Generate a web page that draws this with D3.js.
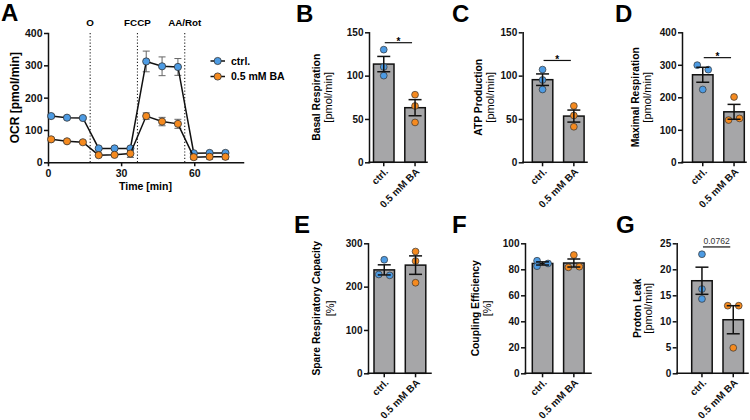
<!DOCTYPE html>
<html><head><meta charset="utf-8">
<script src="https://cdn.jsdelivr.net/npm/d3@7"></script>
<style>
body{margin:0;background:#fff}
svg{display:block}
text{font-family:"Liberation Sans",Arial,Helvetica,sans-serif}
</style>
</head><body>
<svg id="c" width="750" height="420"></svg>
<script>
// ---------- DATA ----------
const timeMin = [1.3, 7.8, 14.3, 20.8, 27.3, 33.8, 40.3, 46.8, 53.3, 59.8, 66.3, 72.8];
const ctrlOCR = [143, 138, 137, 43, 43, 43, 312, 297, 295, 28, 29, 29];
const ctrlSEM = [5, 4, 4, 3, 3, 3, 32, 29, 26, 3, 3, 3];
const baOCR   = [71, 65, 62, 22, 23, 27, 143, 126, 119, 16, 17, 17];
const baSEM   = [4, 4, 4, 3, 3, 12, 10, 13, 14, 7, 7, 7];
const injectionTimes  = [17.3, 36.7, 56.1];
const injectionLabels = ["O", "FCCP", "AA/Rot"];
const seriesNames = ["ctrl.", "0.5 mM BA"];
const timeTicks = [0, 30, 60];
const ocrTicks  = [0, 100, 200, 300, 400];

const groups = ["ctrl.", "0.5 mM BA"];
const basalCtrl    = [130, 110, 100],  basalBA    = [78, 65, 46];
const atpCtrl      = [107, 95, 84],    atpBA      = [65, 54, 41];
const maxCtrl      = [299, 285, 224],  maxBA      = [201, 130, 135];
const spareCtrl    = [262, 228, 226],  spareBA    = [281, 259, 209];
const couplingCtrl = [86.6, 82.4, 84.5], couplingBA = [91, 81.5, 82];
const leakCtrl     = [22.9, 16.2, 14.3], leakBA   = [13, 13, 4.9];

const basalTicks = [0, 50, 100, 150];
const atpTicks = [0, 50, 100, 150];
const maxTicks = [0, 100, 200, 300, 400];
const spareTicks = [0, 100, 200, 300];
const couplingTicks = [0, 20, 40, 60, 80, 100];
const leakTicks = [0, 5, 10, 15, 20, 25];

// ---------- STYLE ----------
const BLUE = "#4d9be3", ORANGE = "#f58a1f", BARFILL = "#a6a6a8";
const svg = d3.select("#c");

function styleAxis(g, fs) {
  g.selectAll("path.domain").attr("stroke", "#111").attr("stroke-width", 1.5).attr("stroke-linecap", "square");
  g.selectAll(".tick line").attr("stroke", "#111").attr("stroke-width", 1.5);
  g.selectAll(".tick text").attr("fill", "#111").style("font-size", fs + "px").style("font-weight", "bold")
    .style("font-family", '"Liberation Sans",Arial,sans-serif');
}
function letter(t, x, y) {
  svg.append("text").attr("x", x).attr("y", y).text(t)
    .style("font-size", "24px").style("font-weight", "bold").attr("fill", "#000");
}

// ---------- PANEL A ----------
(function () {
  const x = d3.scaleLinear().domain([0, 80]).range([48, 243]);
  const y = d3.scaleLinear().domain([0, 400]).range([162.3, 33]);
  letter("A", 1, 21);

  injectionTimes.forEach((t, i) => {
    svg.append("line").attr("x1", x(t)).attr("x2", x(t)).attr("y1", y(400)).attr("y2", y(0))
      .attr("stroke", "#222").attr("stroke-width", 1.1).attr("stroke-dasharray", "1.2,2");
    svg.append("text").attr("x", x(t)).attr("y", 26).attr("text-anchor", "middle").text(injectionLabels[i])
      .style("font-size", "9.8px").style("font-weight", "bold");
  });

  const gy = svg.append("g").attr("transform", `translate(${x(0)},0)`)
    .call(d3.axisLeft(y).tickValues(ocrTicks).tickSize(4).tickSizeOuter(0).tickPadding(1.5));
  styleAxis(gy, 10.5);
  const gx = svg.append("g").attr("transform", `translate(0,${y(0)})`)
    .call(d3.axisBottom(x).tickValues(timeTicks).tickSize(4).tickSizeOuter(0).tickPadding(3.5));
  styleAxis(gx, 10.5);

  svg.append("text").attr("transform", `translate(15,${(y(0) + y(400)) / 2}) rotate(-90)`)
    .attr("text-anchor", "middle").attr("dy", "0.35em").text("OCR [pmol/min]")
    .style("font-size", "12px").style("font-weight", "bold");
  svg.append("text").attr("x", (x(0) + x(80)) / 2).attr("y", 190).attr("text-anchor", "middle")
    .text("Time [min]").style("font-size", "10.5px").style("font-weight", "bold");

  const series = [
    { vals: ctrlOCR, sem: ctrlSEM, color: BLUE },
    { vals: baOCR, sem: baSEM, color: ORANGE }
  ];
  series.forEach(s => {
    const g = svg.append("g");
    timeMin.forEach((t, i) => {
      const cx = x(t), top = y(s.vals[i] + s.sem[i]), bot = y(Math.max(0, s.vals[i] - s.sem[i]));
      g.append("line").attr("x1", cx).attr("x2", cx).attr("y1", top).attr("y2", bot).attr("stroke", "#666").attr("stroke-width", 1);
      [top, bot].forEach(yy => g.append("line").attr("x1", cx - 3.5).attr("x2", cx + 3.5).attr("y1", yy).attr("y2", yy)
        .attr("stroke", "#666").attr("stroke-width", 1));
    });
  });
  series.forEach(s => {
    const line = d3.line().x((d, i) => x(timeMin[i])).y(d => y(d));
    svg.append("path").datum(s.vals).attr("d", line).attr("fill", "none").attr("stroke", "#111").attr("stroke-width", 1.5);
    svg.append("g").selectAll("circle").data(s.vals).join("circle")
      .attr("cx", (d, i) => x(timeMin[i])).attr("cy", d => y(d)).attr("r", 3.6)
      .attr("fill", s.color).attr("stroke", "#333").attr("stroke-width", 0.8);
  });

  const lg = svg.append("g");
  seriesNames.forEach((n, i) => {
    const ly = 61 + i * 15.5, c = i === 0 ? BLUE : ORANGE;
    lg.append("line").attr("x1", 210.5).attr("x2", 225).attr("y1", ly).attr("y2", ly).attr("stroke", "#111").attr("stroke-width", 1.5);
    lg.append("circle").attr("cx", 217.7).attr("cy", ly).attr("r", 3.6).attr("fill", c).attr("stroke", "#333").attr("stroke-width", 0.8);
    lg.append("text").attr("x", 231).attr("y", ly).attr("dy", "0.36em").text(n)
      .style("font-size", "10.5px").style("font-weight", "bold");
  });
})();

// ---------- BAR PANELS ----------
function mean(a) { return d3.mean(a); }
function sem(a) { return d3.deviation(a) / Math.sqrt(a.length); }

// column-based scatter layout (GraphPad-like): overlapping points go to side columns, clusters centred
function scatterLayout(vals, yScale, thr, s) {
  const pts = [];
  vals.forEach(v => {
    const py = yScale(v);
    const tries = [0, s, -s, 2 * s, -2 * s];
    const dx = tries.find(o => pts.every(p => p.dx !== o || Math.abs(p.y - py) >= thr));
    pts.push({ v, y: py, dx: dx === undefined ? 0 : dx });
  });
  const order = pts.slice().sort((a, b) => a.y - b.y);
  let cl = [];
  const clusters = [];
  order.forEach((p, i) => {
    if (i > 0 && p.y - order[i - 1].y >= thr) { clusters.push(cl); cl = []; }
    cl.push(p);
  });
  if (cl.length) clusters.push(cl);
  clusters.forEach(c => {
    const mn = d3.min(c, p => p.dx), mx = d3.max(c, p => p.dx), sh = (mn + mx) / 2;
    c.forEach(p => p.dx -= sh);
  });
  return pts;
}

function barPanel(cfg) {
  const y = d3.scaleLinear().domain([0, cfg.max]).range([cfg.bottom, cfg.bottom - 130]);
  const bw = 20.5, step = 31.3;
  const x = d3.scaleBand().domain(groups).range([cfg.barLeft, cfg.barLeft + step + bw])
    .paddingInner((step - bw) / step).paddingOuter(0);
  const data = [cfg.ctrl, cfg.ba];

  letter(cfg.letter, cfg.lx, cfg.ly);

  svg.append("g").selectAll("rect").data(data).join("rect")
    .attr("x", (d, i) => x(groups[i])).attr("width", x.bandwidth())
    .attr("y", d => y(mean(d))).attr("height", d => y(0) - y(mean(d)))
    .attr("fill", BARFILL).attr("stroke", "#111").attr("stroke-width", 1.5);

  data.forEach((d, i) => {
    const cx = x(groups[i]) + x.bandwidth() / 2;
    const sw = scatterLayout(d, y, 5, 11);
    svg.append("g").selectAll("circle").data(sw).join("circle")
      .attr("cx", p => cx + p.dx).attr("cy", p => p.y).attr("r", 3.4)
      .attr("fill", i === 0 ? BLUE : ORANGE).attr("stroke", "#333").attr("stroke-width", 0.7);
  });

  data.forEach((d, i) => {
    const cx = x(groups[i]) + x.bandwidth() / 2, m = mean(d), e = sem(d);
    const g = svg.append("g").attr("stroke", "#111").attr("stroke-width", 1.5);
    g.append("line").attr("x1", cx).attr("x2", cx).attr("y1", y(m + e)).attr("y2", y(m - e));
    [m + e, m - e].forEach(v => g.append("line").attr("x1", cx - 6.5).attr("x2", cx + 6.5).attr("y1", y(v)).attr("y2", y(v)));
  });

  const gy = svg.append("g").attr("transform", `translate(${cfg.axisX},0)`)
    .call(d3.axisLeft(y).tickValues(cfg.ticks).tickSize(4).tickSizeOuter(0).tickPadding(1.5));
  styleAxis(gy, 10);
  const gx = svg.append("g").attr("transform", `translate(0,${cfg.bottom})`)
    .call(d3.axisBottom(x).tickSize(4).tickSizeOuter(0));
  gx.select("path.domain").attr("d", `M${cfg.axisX},0H${cfg.axisEnd}`);
  styleAxis(gx, 10);
  gx.selectAll(".tick text").attr("y", 0).attr("dy", 0).attr("text-anchor", "end")
    .attr("transform", "translate(5,10) rotate(-45)");

  const cy = cfg.bottom - 65;
  svg.append("text").attr("transform", `translate(${cfg.t1x},${cy}) rotate(-90)`).attr("dy", "0.35em")
    .attr("text-anchor", "middle").text(cfg.title1).style("font-size", "10.3px").style("font-weight", "bold");
  svg.append("text").attr("transform", `translate(${cfg.t2x},${cy}) rotate(-90)`).attr("dy", "0.35em")
    .attr("text-anchor", "middle").text(cfg.title2).style("font-size", "11px");

  if (cfg.sig) {
    const c1 = x(groups[0]) + x.bandwidth() / 2, c2 = x(groups[1]) + x.bandwidth() / 2;
    const sy = y(cfg.sig.v);
    svg.append("line").attr("x1", c1 + 1).attr("x2", c2 - 3).attr("y1", sy).attr("y2", sy).attr("stroke", "#111").attr("stroke-width", 1.2);
    if (cfg.sig.label === "*") {
      svg.append("text").attr("x", (c1 + c2) / 2 - 1).attr("y", sy + 2.5).attr("text-anchor", "middle").text("*")
        .style("font-size", "10px").style("font-weight", "bold");
    } else {
      svg.append("text").attr("x", (c1 + c2) / 2 - 1).attr("y", sy - 2.5).attr("text-anchor", "middle").text(cfg.sig.label)
        .style("font-size", "8.6px").attr("fill", "#333");
    }
  }
}

barPanel({ letter: "B", lx: 296, ly: 22, ctrl: basalCtrl, ba: basalBA, max: 150, ticks: basalTicks,
  bottom: 162.3, axisX: 369, axisEnd: 427, barLeft: 373.5, t1x: 316.5, t2x: 328.5,
  title1: "Basal Respiration", title2: "[pmol/min]", sig: { v: 138, label: "*" } });
barPanel({ letter: "C", lx: 452, ly: 22, ctrl: atpCtrl, ba: atpBA, max: 150, ticks: atpTicks,
  bottom: 162.3, axisX: 522.7, axisEnd: 587, barLeft: 532.3, t1x: 478, t2x: 490,
  title1: "ATP Production", title2: "[pmol/min]", sig: { v: 117.5, label: "*" } });
barPanel({ letter: "D", lx: 615, ly: 22, ctrl: maxCtrl, ba: maxBA, max: 400, ticks: maxTicks,
  bottom: 162.3, axisX: 682, axisEnd: 746, barLeft: 692.5, t1x: 635, t2x: 647.5,
  title1: "Maximal Respiration", title2: "[pmol/min]", sig: { v: 322, label: "*" } });
barPanel({ letter: "E", lx: 294, ly: 233, ctrl: spareCtrl, ba: spareBA, max: 300, ticks: spareTicks,
  bottom: 373.3, axisX: 368, axisEnd: 431, barLeft: 374, t1x: 316.7, t2x: 330,
  title1: "Spare Respiratory Capacity", title2: "[%]", sig: null });
barPanel({ letter: "F", lx: 452, ly: 233, ctrl: couplingCtrl, ba: couplingBA, max: 100, ticks: couplingTicks,
  bottom: 373.3, axisX: 525, axisEnd: 591, barLeft: 532.3, t1x: 475, t2x: 487,
  title1: "Coupling Efficiency", title2: "[%]", sig: null });
barPanel({ letter: "G", lx: 616, ly: 233, ctrl: leakCtrl, ba: leakBA, max: 25, ticks: leakTicks,
  bottom: 373.3, axisX: 676.7, axisEnd: 748, barLeft: 691.7, t1x: 637, t2x: 648,
  title1: "Proton Leak", title2: "[pmol/min]", sig: { v: 24.3, label: "0.0762" } });
</script>
</body></html>
